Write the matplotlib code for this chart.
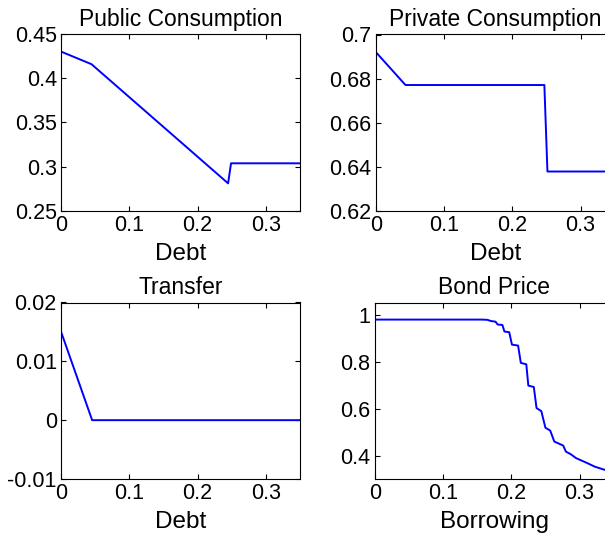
import matplotlib
matplotlib.use('Agg')
import matplotlib.pyplot as plt

plt.rcParams['font.family'] = ['Liberation Sans', 'DejaVu Sans']

# public consumption vs debt
debt_g = [0.0, 0.0447, 0.2447, 0.249, 0.35]
pub_g = [0.4303, 0.416, 0.281, 0.3037, 0.3037]

# private consumption vs debt
debt_c = [0.0, 0.0436, 0.247, 0.2515, 0.35]
priv_c = [0.6921, 0.6771, 0.6771, 0.6379, 0.6379]

# transfer vs debt
debt_t = [0.0, 0.0456, 0.35]
transfer = [0.01506, 0.0, 0.0]

# bond price vs borrowing
borrow = [0.0, 0.157, 0.165, 0.17, 0.177, 0.18, 0.187, 0.19, 0.197, 0.201,
          0.21, 0.214, 0.222, 0.225, 0.233, 0.237, 0.244, 0.25, 0.257, 0.263,
          0.276, 0.28, 0.287, 0.295, 0.312, 0.322, 0.337, 0.35]
price = [0.981, 0.981, 0.98, 0.975, 0.972, 0.96, 0.958, 0.93, 0.927, 0.874,
         0.87, 0.796, 0.79, 0.699, 0.693, 0.603, 0.59, 0.519, 0.507, 0.46,
         0.443, 0.417, 0.406, 0.389, 0.367, 0.353, 0.339, 0.33]

fig = plt.figure(figsize=(6.05, 5.37), dpi=100)
w = 239 / 605.
h = 176.5 / 537.
ax1 = fig.add_axes([61 / 605., 1 - 210.7 / 537., w, h])
ax2 = fig.add_axes([375.7 / 605., 1 - 211 / 537., w, h])
ax3 = fig.add_axes([61 / 605., 1 - 479 / 537., w, h])
ax4 = fig.add_axes([374.7 / 605., 1 - 479 / 537., w, h])

ax1.plot(debt_g, pub_g, color='#0000ff', lw=1.4)
ax1.set_ylim(0.25, 0.45)
ax1.set_yticks([0.25, 0.3, 0.35, 0.4, 0.45])
ax1.set_yticklabels(['0.25', '0.3', '0.35', '0.4', '0.45'])
ax1.set_title('Public Consumption')
ax1.set_xlabel('Debt')

ax2.plot(debt_c, priv_c, color='#0000ff', lw=1.4)
ax2.set_ylim(0.62, 0.7)
ax2.set_yticks([0.62, 0.64, 0.66, 0.68, 0.7])
ax2.set_yticklabels(['0.62', '0.64', '0.66', '0.68', '0.7'])
ax2.set_title('Private Consumption')
ax2.set_xlabel('Debt')

ax3.plot(debt_t, transfer, color='#0000ff', lw=1.4)
ax3.set_ylim(-0.01, 0.02)
ax3.set_yticks([-0.01, 0, 0.01, 0.02])
ax3.set_yticklabels(['-0.01', '0', '0.01', '0.02'])
ax3.set_title('Transfer')
ax3.set_xlabel('Debt')

ax4.plot(borrow, price, color='#0000ff', lw=1.4)
ax4.set_ylim(0.3, 1.054)
ax4.set_yticks([0.4, 0.6, 0.8, 1.0])
ax4.set_yticklabels(['0.4', '0.6', '0.8', '1'])
ax4.set_title('Bond Price')
ax4.set_xlabel('Borrowing')

for ax in [ax1, ax2, ax3, ax4]:
    ax.set_xlim(0, 0.35)
    ax.set_xticks([0, 0.1, 0.2, 0.3])
    ax.set_xticklabels(['0', '0.1', '0.2', '0.3'])
    ax.tick_params(direction='in', top=True, right=True, labelsize=15.5, length=3.5, pad=3)
    ax.title.set_fontsize(16.5)
    ax.xaxis.label.set_fontsize(17.5)
    ax.xaxis.labelpad = 5
    for s in ax.spines.values():
        s.set_linewidth(0.8)
    ax.title.set_y(0.98)

plt.savefig('out.png', dpi=100)
